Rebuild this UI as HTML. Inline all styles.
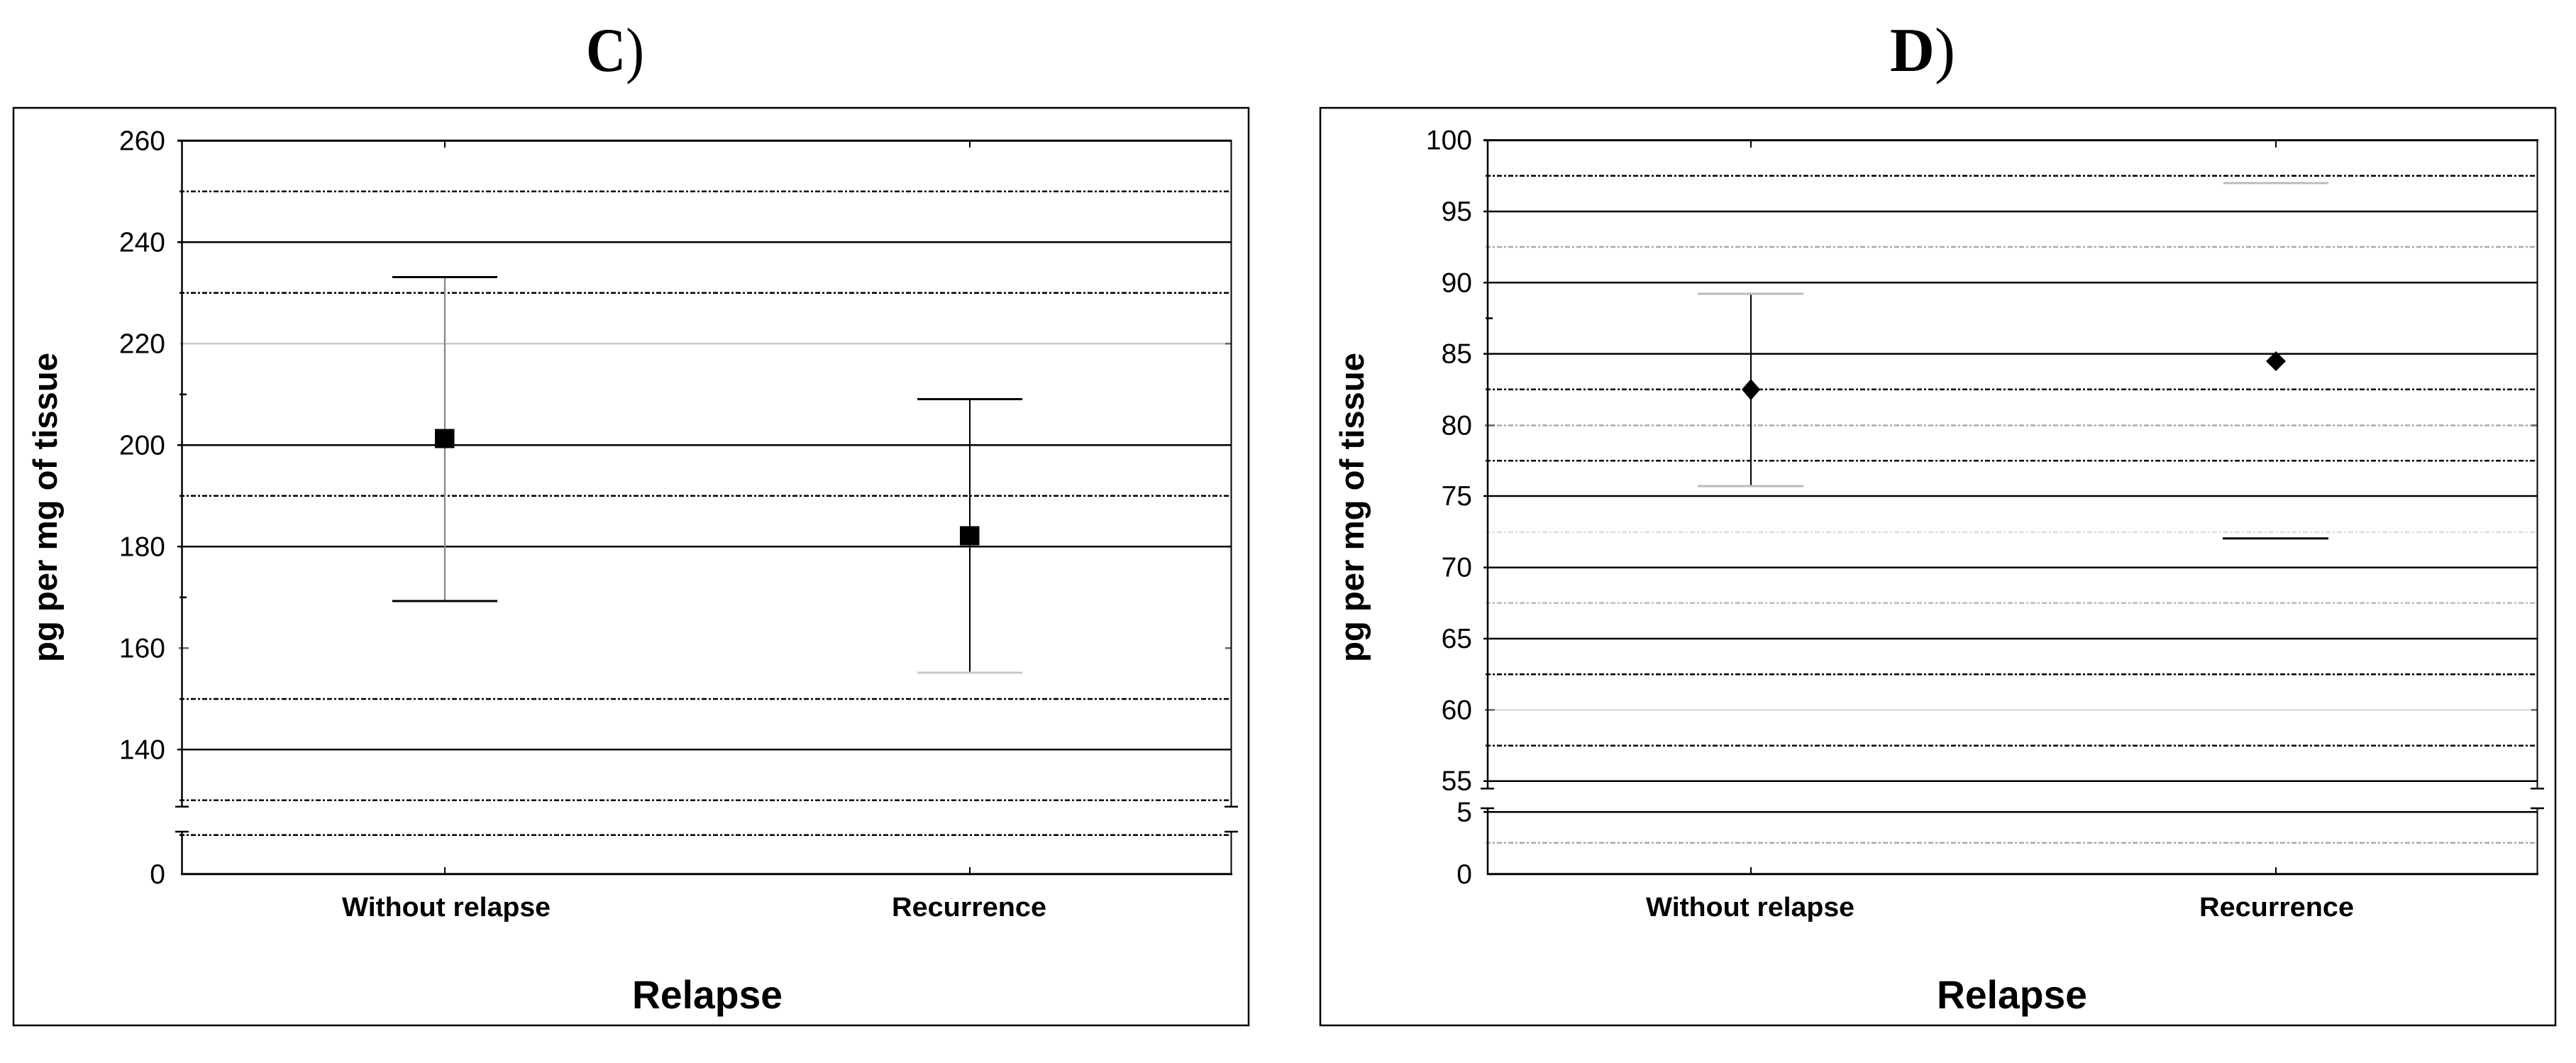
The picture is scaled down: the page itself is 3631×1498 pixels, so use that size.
<!DOCTYPE html>
<html>
<head>
<meta charset="utf-8">
<style>
html,body{margin:0;padding:0;background:#fff;}
svg{display:block;}
text{font-family:"Liberation Sans",Arial,sans-serif;}
.serif{font-family:"Liberation Serif","Times New Roman",serif;}
</style>
</head>
<body>
<svg width="3631" height="1498" viewBox="0 0 3631 1498" xmlns="http://www.w3.org/2000/svg">
<rect width="3631" height="1498" fill="#fff"/>

<!-- Titles -->
<text class="serif" x="826" y="100" font-size="88" fill="#000" textLength="82" lengthAdjust="spacingAndGlyphs"><tspan font-weight="bold">C</tspan><tspan>)</tspan></text>
<text class="serif" x="2664" y="100" font-size="88" fill="#000" textLength="92" lengthAdjust="spacingAndGlyphs"><tspan font-weight="bold">D</tspan><tspan>)</tspan></text>

<!-- ================= LEFT PANEL ================= -->
<g>
  <rect x="19" y="152" width="1741" height="1293" fill="none" stroke="#000" stroke-width="2.5"/>
  <!-- gridlines -->
  <g stroke-width="2.5" fill="none">
    <line x1="253" y1="269.8" x2="1735" y2="269.8" stroke="#000" stroke-dasharray="7 3 3 3"/>
    <line x1="250" y1="341.3" x2="1735" y2="341.3" stroke="#000"/>
    <line x1="253" y1="412.8" x2="1735" y2="412.8" stroke="#000" stroke-dasharray="7 3 3 3"/>
    <line x1="253" y1="484.3" x2="1735" y2="484.3" stroke="#c8c8c8"/>
    <line x1="250" y1="627.3" x2="1735" y2="627.3" stroke="#000"/>
    <line x1="253" y1="698.8" x2="1735" y2="698.8" stroke="#000" stroke-dasharray="7 3 3 3"/>
    <line x1="250" y1="770.3" x2="1735" y2="770.3" stroke="#000"/>
    <line x1="253" y1="985" x2="1735" y2="985" stroke="#000" stroke-dasharray="7 3 3 3"/>
    <line x1="250" y1="1056.3" x2="1735" y2="1056.3" stroke="#000"/>
    <line x1="253" y1="1127.8" x2="1735" y2="1127.8" stroke="#000" stroke-dasharray="7 3 3 3"/>
    <line x1="253" y1="1176.7" x2="1735" y2="1176.7" stroke="#000" stroke-dasharray="7 3 3 3"/>
  </g>
  <!-- minor ticks -->
  <g stroke-width="2.5">
    <line x1="253" y1="555.8" x2="263" y2="555.8" stroke="#000"/>
    <line x1="253" y1="841.8" x2="263" y2="841.8" stroke="#000"/>
    <line x1="252" y1="913.3" x2="266" y2="913.3" stroke="#666"/>
    <line x1="1727" y1="913.3" x2="1736" y2="913.3" stroke="#666"/>
    <line x1="1727" y1="484.3" x2="1736" y2="484.3" stroke="#666"/>
  </g>
  <!-- axes / frame -->
  <g stroke="#000" fill="none">
    <line x1="250" y1="198.3" x2="1736" y2="198.3" stroke-width="3"/>
    <line x1="256.5" y1="197" x2="256.5" y2="1136.7" stroke-width="2.5"/>
    <line x1="1735.5" y1="197" x2="1735.5" y2="1136.7" stroke-width="2"/>
    <line x1="247" y1="1136.7" x2="266" y2="1136.7" stroke-width="2.5"/>
    <line x1="1726" y1="1136.7" x2="1745" y2="1136.7" stroke-width="2.5"/>
    <line x1="247" y1="1172" x2="266" y2="1172" stroke-width="2.5"/>
    <line x1="1726" y1="1172" x2="1745" y2="1172" stroke-width="2.5"/>
    <line x1="256.5" y1="1172" x2="256.5" y2="1233" stroke-width="2.5"/>
    <line x1="1735.5" y1="1172" x2="1735.5" y2="1233" stroke-width="2"/>
    <line x1="255" y1="1231.7" x2="1737" y2="1231.7" stroke-width="3"/>
    <!-- category ticks -->
    <line x1="627" y1="198" x2="627" y2="208" stroke-width="2"/>
    <line x1="1367" y1="198" x2="1367" y2="208" stroke-width="2"/>
    <line x1="627" y1="1222" x2="627" y2="1232" stroke-width="2"/>
    <line x1="1367" y1="1222" x2="1367" y2="1232" stroke-width="2"/>
  </g>
  <!-- Without relapse -->
  <line x1="627" y1="390.5" x2="627" y2="847" stroke="#888" stroke-width="2.3"/>
  <line x1="553" y1="390.5" x2="701" y2="390.5" stroke="#000" stroke-width="3"/>
  <line x1="553" y1="847" x2="701" y2="847" stroke="#000" stroke-width="3"/>
  <rect x="613" y="604.5" width="27.5" height="27" fill="#000"/>
  <!-- Recurrence -->
  <line x1="1367" y1="562.5" x2="1367" y2="948" stroke="#000" stroke-width="2"/>
  <line x1="1293" y1="562.5" x2="1441" y2="562.5" stroke="#000" stroke-width="3"/>
  <line x1="1293" y1="948" x2="1441" y2="948" stroke="#c8c8c8" stroke-width="3"/>
  <rect x="1353" y="741.5" width="27.5" height="27" fill="#000"/>
  <!-- tick labels -->
  <g font-size="39" text-anchor="end" fill="#000">
    <text x="233" y="211.3">260</text>
    <text x="233" y="354.3">240</text>
    <text x="233" y="497.3">220</text>
    <text x="233" y="640.3">200</text>
    <text x="233" y="783.3">180</text>
    <text x="233" y="926.3">160</text>
    <text x="233" y="1069.3">140</text>
    <text x="233" y="1245">0</text>
  </g>
  <!-- axis titles -->
  <text transform="translate(80,715) rotate(-90)" text-anchor="middle" font-size="47" font-weight="bold" textLength="436" lengthAdjust="spacingAndGlyphs">pg per mg of tissue</text>
  <text x="629" y="1291" text-anchor="middle" font-size="38" font-weight="bold" textLength="294" lengthAdjust="spacingAndGlyphs">Without relapse</text>
  <text x="1366" y="1291" text-anchor="middle" font-size="38" font-weight="bold" textLength="218" lengthAdjust="spacingAndGlyphs">Recurrence</text>
  <text x="997" y="1421" text-anchor="middle" font-size="56" font-weight="bold" textLength="212" lengthAdjust="spacingAndGlyphs">Relapse</text>
</g>

<!-- ================= RIGHT PANEL ================= -->
<g>
  <rect x="1861" y="152" width="1741" height="1293" fill="none" stroke="#000" stroke-width="2.5"/>
  <g stroke-width="2.5" fill="none">
    <line x1="2094" y1="247.8" x2="3576" y2="247.8" stroke="#000" stroke-dasharray="7 3 3 3"/>
    <line x1="2091" y1="298" x2="3576" y2="298" stroke="#000"/>
    <line x1="2094" y1="348" x2="3576" y2="348" stroke="#aaa" stroke-dasharray="7 3 3 3"/>
    <line x1="2091" y1="398.3" x2="3576" y2="398.3" stroke="#000"/>
    <line x1="2091" y1="498.6" x2="3576" y2="498.6" stroke="#000"/>
    <line x1="2094" y1="548.8" x2="3576" y2="548.8" stroke="#000" stroke-dasharray="7 3 3 3"/>
    <line x1="2094" y1="599.5" x2="3576" y2="599.5" stroke="#aaa" stroke-dasharray="7 3 3 3"/>
    <line x1="2094" y1="649.3" x2="3576" y2="649.3" stroke="#000" stroke-dasharray="7 3 3 3"/>
    <line x1="2091" y1="699" x2="3576" y2="699" stroke="#000"/>
    <line x1="2094" y1="750" x2="3576" y2="750" stroke="#ddd" stroke-dasharray="7 3 3 3"/>
    <line x1="2091" y1="799.7" x2="3576" y2="799.7" stroke="#000"/>
    <line x1="2094" y1="849.8" x2="3576" y2="849.8" stroke="#bbb" stroke-dasharray="7 3 3 3"/>
    <line x1="2091" y1="900" x2="3576" y2="900" stroke="#000"/>
    <line x1="2094" y1="950.2" x2="3576" y2="950.2" stroke="#000" stroke-dasharray="7 3 3 3"/>
    <line x1="2094" y1="1000.4" x2="3576" y2="1000.4" stroke="#ddd"/>
    <line x1="2094" y1="1050.8" x2="3576" y2="1050.8" stroke="#000" stroke-dasharray="7 3 3 3"/>
    <line x1="2091" y1="1100.7" x2="3576" y2="1100.7" stroke="#000"/>
    <line x1="2091" y1="1144.3" x2="3576" y2="1144.3" stroke="#000"/>
    <line x1="2094" y1="1187.7" x2="3576" y2="1187.7" stroke="#aaa" stroke-dasharray="7 3 3 3"/>
  </g>
  <g stroke-width="2.5">
    <line x1="2094" y1="448.5" x2="2104" y2="448.5" stroke="#000"/>
    <line x1="2093" y1="599.5" x2="2107" y2="599.5" stroke="#666"/>
    <line x1="3568" y1="599.5" x2="3577" y2="599.5" stroke="#666"/>
    <line x1="2093" y1="1000.4" x2="2107" y2="1000.4" stroke="#666"/>
    <line x1="3568" y1="1000.4" x2="3577" y2="1000.4" stroke="#666"/>
  </g>
  <g stroke="#000" fill="none">
    <line x1="2091" y1="197.6" x2="3578" y2="197.6" stroke-width="3"/>
    <line x1="2097" y1="196" x2="2097" y2="1111.3" stroke-width="2.5"/>
    <line x1="3576.5" y1="196" x2="3576.5" y2="1111.3" stroke-width="2"/>
    <line x1="2087" y1="1111.3" x2="2106" y2="1111.3" stroke-width="2.5"/>
    <line x1="3567" y1="1111.3" x2="3586" y2="1111.3" stroke-width="2.5"/>
    <line x1="2087" y1="1139" x2="2106" y2="1139" stroke-width="2.5"/>
    <line x1="3567" y1="1139" x2="3586" y2="1139" stroke-width="2.5"/>
    <line x1="2097" y1="1139" x2="2097" y2="1233" stroke-width="2.5"/>
    <line x1="3576.5" y1="1139" x2="3576.5" y2="1233" stroke-width="2"/>
    <line x1="2096" y1="1231.7" x2="3578" y2="1231.7" stroke-width="3"/>
    <line x1="2468" y1="198" x2="2468" y2="208" stroke-width="2"/>
    <line x1="3208" y1="198" x2="3208" y2="208" stroke-width="2"/>
    <line x1="2468" y1="1222" x2="2468" y2="1232" stroke-width="2"/>
    <line x1="3208" y1="1222" x2="3208" y2="1232" stroke-width="2"/>
  </g>
  <!-- Without relapse -->
  <line x1="2468" y1="414" x2="2468" y2="685" stroke="#000" stroke-width="2"/>
  <line x1="2393" y1="414" x2="2542" y2="414" stroke="#bbb" stroke-width="3"/>
  <line x1="2393" y1="685" x2="2542" y2="685" stroke="#bbb" stroke-width="3"/>
  <polygon points="2468,534 2481,549 2468,564 2455,549" fill="#000"/>
  <!-- Recurrence -->
  <line x1="3134" y1="258" x2="3282" y2="258" stroke="#bbb" stroke-width="3"/>
  <line x1="3133" y1="758.7" x2="3282" y2="758.7" stroke="#000" stroke-width="3"/>
  <polygon points="3208,495 3222,509 3208,523 3194,509" fill="#000"/>
  <!-- tick labels -->
  <g font-size="39" text-anchor="end" fill="#000">
    <text x="2075" y="210.6">100</text>
    <text x="2075" y="311">95</text>
    <text x="2075" y="411.3">90</text>
    <text x="2075" y="511.6">85</text>
    <text x="2075" y="612.5">80</text>
    <text x="2075" y="712">75</text>
    <text x="2075" y="812.7">70</text>
    <text x="2075" y="913">65</text>
    <text x="2075" y="1013.4">60</text>
    <text x="2075" y="1113.7">55</text>
    <text x="2075" y="1157.3">5</text>
    <text x="2075" y="1245">0</text>
  </g>
  <text transform="translate(1922,715) rotate(-90)" text-anchor="middle" font-size="47" font-weight="bold" textLength="436" lengthAdjust="spacingAndGlyphs">pg per mg of tissue</text>
  <text x="2467" y="1291" text-anchor="middle" font-size="38" font-weight="bold" textLength="294" lengthAdjust="spacingAndGlyphs">Without relapse</text>
  <text x="3209" y="1291" text-anchor="middle" font-size="38" font-weight="bold" textLength="218" lengthAdjust="spacingAndGlyphs">Recurrence</text>
  <text x="2836" y="1421" text-anchor="middle" font-size="56" font-weight="bold" textLength="212" lengthAdjust="spacingAndGlyphs">Relapse</text>
</g>
</svg>
</body>
</html>
